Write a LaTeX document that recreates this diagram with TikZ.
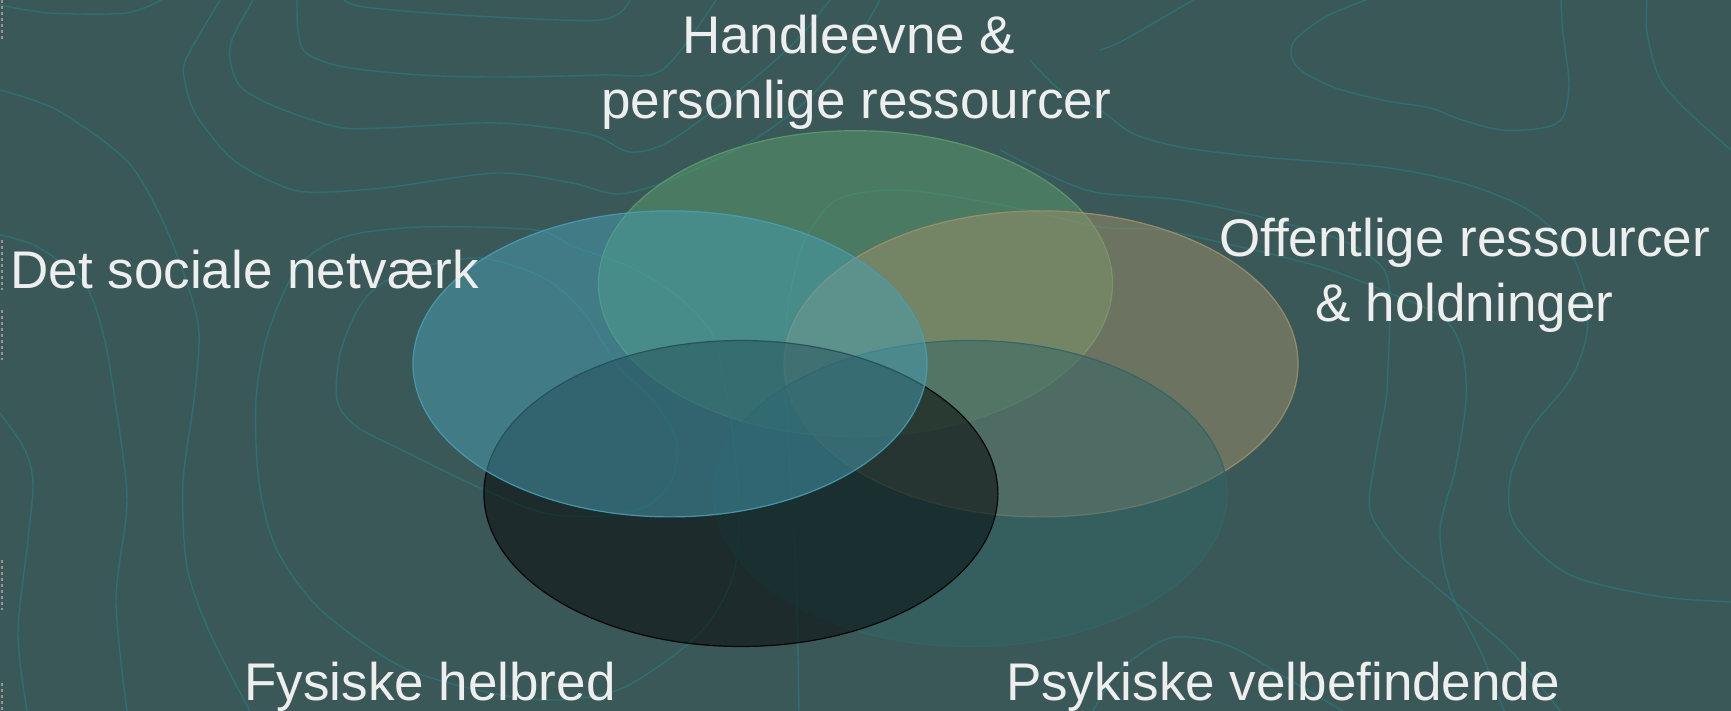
\documentclass[tikz,border=0pt]{standalone}
\usepackage{fontspec}
\setmainfont{Liberation Sans}
\usetikzlibrary{positioning}

\definecolor{bgteal}{RGB}{59,88,89}
\definecolor{ctline}{RGB}{46,112,112}
\definecolor{handgreen}{RGB}{91,156,107}
\definecolor{offtan}{RGB}{157,144,105}
\definecolor{psyteal}{RGB}{49,102,101}
\definecolor{netblue}{RGB}{71,158,179}
\definecolor{labeltext}{RGB}{238,238,238}
\definecolor{edgegray}{RGB}{150,150,150}

\tikzset{
  ctlines/.style={draw=ctline, line width=0.7pt},
  bubble/.style={fill opacity=0.5, draw opacity=0.9, line width=0.6pt},
  venntext/.style={text=labeltext, inner sep=0pt, align=center,
    font=\fontsize{26.5pt}{32.75pt}\selectfont}
}

\begin{document}
\begin{tikzpicture}[x=0.5pt, y=-0.5pt]
			\useasboundingbox (0,0) rectangle (1731,711);
			\fill[bgteal] (0,0) rectangle (1731,711);
			% contour lines in the background
			\begin{scope}[ctlines]
			\draw plot[smooth] coordinates {(0,5) (50,13) (126,13) (161,0)};
			\draw plot[smooth] coordinates {(220,0) (187,57) (184,77) (195,113) (230,157) (268,180) (306,192) (383,188) (497,173) (572,183) (618,194) (670,180) (750,142) (807,100) (850,50) (880,0)};
			\draw plot[smooth] coordinates {(253,0) (233,37) (230,60) (241,87) (276,107) (337,127) (383,128) (497,123) (589,134) (630,152) (670,141) (741,89) (794,43) (830,0)};
			\draw plot[smooth] coordinates {(297,0) (298,30) (306,53) (344,67) (421,75) (497,77) (600,75) (662,70) (716,0)};
			\draw plot[smooth] coordinates {(344,0) (364,7) (459,15) (600,20) (630,0)};
			\draw plot[smooth] coordinates {(0,90) (57,110) (126,160) (161,217) (187,283) (199,333) (194,400) (183,483) (187,567) (210,633) (250,711)};
			\draw plot[smooth] coordinates {(0,235) (38,247) (84,283) (103,333) (115,400) (127,500) (116,600) (127,711)};
			\draw plot[smooth] coordinates {(0,413) (25,450) (33,483) (28,540) (18,633) (27,711)};
			\draw plot[smooth cycle] coordinates {(256,400) (268,333) (298,267) (344,237) (421,227) (536,230) (572,246) (630,267) (676,295) (710,330) (721,366) (733,436) (739,506) (733,576) (700,633) (625,687) (558,700) (491,693) (402,667) (321,610) (277,550) (259,483)};
			\draw plot[smooth cycle] coordinates {(337,400) (341,350) (364,300) (402,273) (478,258) (544,278) (584,313) (618,366) (653,400) (676,440) (672,480) (647,506) (601,516) (544,513) (480,488) (402,450) (357,427)};
			\draw plot[smooth] coordinates {(799,711) (796,576) (790,471) (785,365) (790,295) (805,240) (836,200) (888,190) (945,195) (1031,211) (1100,227) (1160,230) (1241,247) (1321,267) (1382,290) (1442,317) (1462,350) (1466,400) (1455,470) (1440,530) (1450,590) (1480,650) (1504,711)};
			\draw plot[smooth] coordinates {(1000,150) (1060,180) (1100,193) (1180,200) (1261,217) (1341,240) (1382,267) (1390,300) (1388,367) (1386,400) (1375,460) (1370,510) (1395,550) (1440,590) (1510,650) (1560,711)};
			\draw plot[smooth] coordinates {(1030,60) (1060,90) (1100,110) (1132,133) (1180,147) (1261,157) (1382,167) (1462,183) (1523,207) (1563,240) (1583,283) (1587,333) (1570,380) (1530,430) (1510,480) (1515,525) (1568,574) (1656,596) (1731,602)};
			\draw plot[smooth] coordinates {(1366,0) (1325,17) (1293,43) (1297,67) (1333,87) (1382,100) (1430,108) (1462,120) (1502,130) (1543,128) (1563,117) (1569,83) (1563,33) (1561,0)};
			\draw plot[smooth] coordinates {(1647,0) (1647,33) (1659,77) (1683,107) (1731,150)};
			\draw plot[smooth] coordinates {(1100,50) (1124,40) (1193,0)};
			\draw plot[smooth] coordinates {(1093,711) (1120,670) (1170,638) (1227,645) (1290,680) (1343,711)};
			\end{scope}
			% gray marks on the left edge
			\foreach \ya/\yb in {0/40, 240/290, 310/360, 560/610, 683/711}
				\draw[edgegray, line width=1pt, dash pattern=on 1.5pt off 1.5pt] (1.5,\ya) -- (1.5,\yb);
			% the five ellipses, top first and then clockwise
			\filldraw[bubble, fill=handgreen, draw=handgreen] (855.5,283.7) ellipse [x radius=257, y radius=153];
			\filldraw[bubble, fill=offtan, draw=offtan] (1041,363.9) ellipse [x radius=257, y radius=153];
			\filldraw[bubble, fill=psyteal, draw=psyteal] (970.1,493.5) ellipse [x radius=257, y radius=153];
			\filldraw[bubble, fill=black, draw=black] (740.9,493.5) ellipse [x radius=257, y radius=153];
			\filldraw[bubble, fill=netblue, draw=netblue] (670,363.9) ellipse [x radius=257, y radius=153];
			% labels (base = baseline of the last line)
			\node[venntext, anchor=base] (handle) at (856,119) {Handleevne \&\hphantom{\ }\\personlige ressourcer};
			\node[venntext, anchor=base west] (netvaerk) at (10,288.3) {Det sociale netværk};
			\node[venntext, anchor=base] (offentlig) at (1464.5,322) {Offentlige ressourcer\\\& holdninger};
			\node[venntext, anchor=base] (fysisk) at (430,700) {Fysiske helbred};
			\node[venntext, anchor=base] (psykisk) at (1283,700) {Psykiske velbefindende};
			\end{tikzpicture}
\end{document}
